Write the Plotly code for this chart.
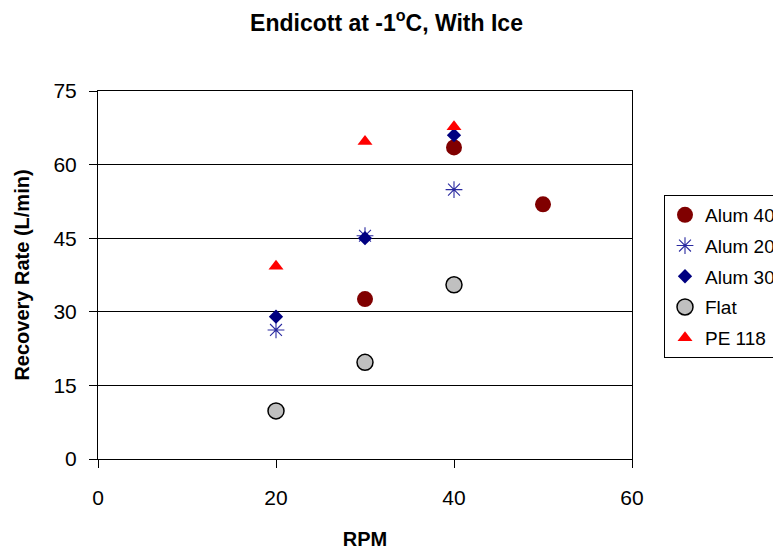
import plotly.graph_objects as go

rpm_alum40 = [30, 40, 50]
val_alum40 = [32.6, 63.5, 51.9]
rpm_alum20 = [20, 30, 40]
val_alum20 = [26.3, 45.5, 54.9]
rpm_alum30 = [20, 30, 40]
val_alum30 = [29.0, 45.0, 66.0]
rpm_flat = [20, 30, 40]
val_flat = [9.8, 19.7, 35.5]
rpm_pe118 = [20, 30, 40]
val_pe118 = [39.3, 64.7, 67.7]

x_ticks = [0, 20, 40, 60]
y_ticks = [0, 15, 30, 45, 60, 75]

FONT = "Liberation Sans, Arial, sans-serif"

fig = go.Figure()
fig.add_trace(go.Scatter(x=rpm_alum40, y=val_alum40, mode="markers", name="Alum 40", legendgroup="a",
                         marker=dict(symbol="circle", size=16, color="#800000", line=dict(width=0))))
fig.add_trace(go.Scatter(x=rpm_alum20, y=val_alum20, mode="markers", name="Alum 20", legendgroup="b",
                         marker=dict(symbol="asterisk-open", size=14, color="#2a2aa0", line=dict(width=1.1, color="#2a2aa0"))))
fig.add_trace(go.Scatter(x=rpm_alum30, y=val_alum30, mode="markers", name="Alum 30", legendgroup="c",
                         marker=dict(symbol="diamond", size=11, color="#000080", line=dict(width=0))))
fig.add_trace(go.Scatter(x=rpm_flat, y=val_flat, mode="markers", name="Flat", legendgroup="d",
                         marker=dict(symbol="circle", size=16, color="#C0C0C0", line=dict(width=1.5, color="#000000"))))
fig.add_trace(go.Scatter(x=rpm_pe118, y=val_pe118, mode="markers", name="PE 118", legendgroup="e",
                         marker=dict(symbol="triangle-up", size=13, color="#FF0000", line=dict(width=0))))

fig.update_layout(
    width=773, height=550,
    margin=dict(l=98, r=141, t=91, b=91),
    paper_bgcolor="white", plot_bgcolor="white",
    font=dict(family=FONT, color="black"),
    title=dict(text="Endicott at -1<sup>o</sup>C, With Ice", x=0.5, xref="container", xanchor="center",
               y=1 - 23 / 550, yref="container", yanchor="middle",
               font=dict(size=23, family=FONT, weight="bold")),
    showlegend=True,
    legend=dict(xref="container", yref="container", x=664 / 773, y=1 - 195 / 550,
                xanchor="left", yanchor="top", bordercolor="black", borderwidth=1,
                font=dict(size=19, family=FONT), tracegroupgap=3, bgcolor="white"),
    xaxis=dict(range=[0, 60], tickvals=x_ticks, ticks="outside", ticklen=8, tickcolor="black",
               showgrid=False, zeroline=False, showline=True, linecolor="black", linewidth=1, mirror=True,
               tickfont=dict(size=21, family=FONT), ticklabelstandoff=12, automargin=False,
               title=dict(text="<b>RPM</b>", font=dict(size=20, family=FONT), standoff=24)),
    yaxis=dict(range=[0, 75], tickvals=y_ticks, ticks="outside", ticklen=8, tickcolor="black",
               showgrid=True, gridcolor="#000000", gridwidth=1, zeroline=False,
               showline=True, linecolor="black", linewidth=1, mirror=True, automargin=False,
               tickfont=dict(size=21, family=FONT), ticklabelstandoff=8,
               title=dict(text="<b>Recovery Rate (L/min)</b>", font=dict(size=20, family=FONT), standoff=18)),
)

fig.write_html("out.html")
